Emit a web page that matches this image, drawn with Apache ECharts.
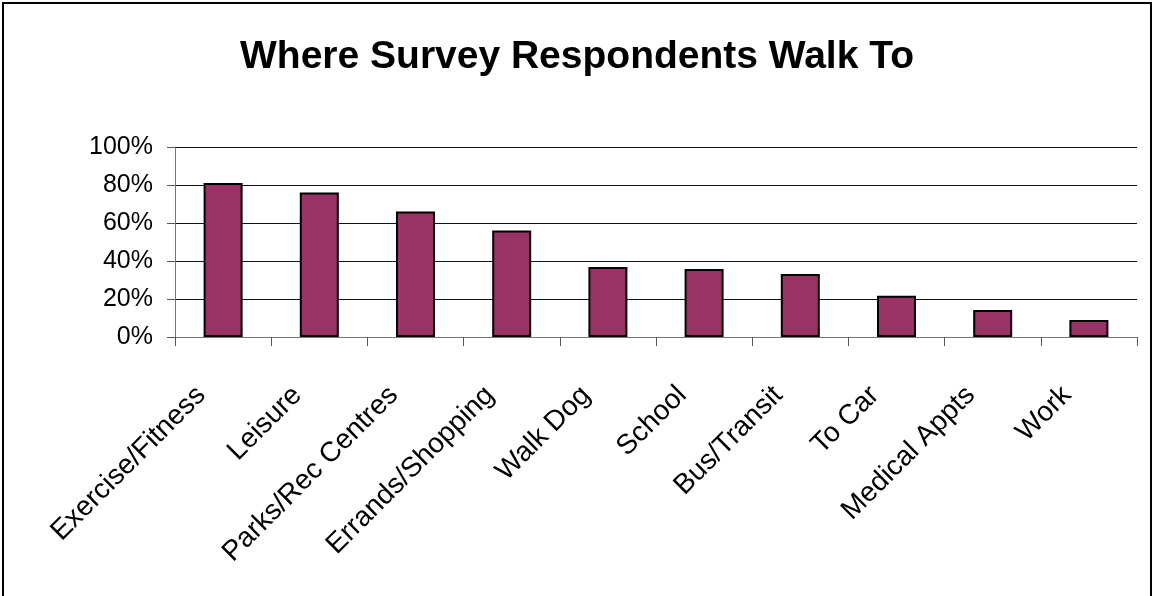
<!DOCTYPE html>
<html>
<head>
<meta charset="utf-8">
<script src="https://cdn.jsdelivr.net/npm/echarts@6/dist/echarts.min.js"></script>
<style>
  html, body { margin: 0; padding: 0; background: #fff; }
  #chart { width: 1154px; height: 596px; }
</style>
</head>
<body>
<div id="chart"></div>
<script>
// categories and share of respondents (%)
const categories = ["Exercise/Fitness", "Leisure", "Parks/Rec Centres", "Errands/Shopping", "Walk Dog", "School", "Bus/Transit", "To Car", "Medical Appts", "Work"];
const values = [81, 76, 66, 56, 36.8, 35.8, 33.2, 21.7, 14.2, 8.9];

const chart = echarts.init(document.getElementById("chart"));
const font = "Liberation Sans, Arial, sans-serif";

chart.setOption({
    animation: false,
    title: {
        text: "Where Survey Respondents Walk To",
        left: "center",
        top: 33,
        textStyle: {
            fontFamily: font,
            fontSize: 39,
            fontWeight: "bold",
            color: "#000"
        }
    },
    graphic: [
        {
            // outer chart frame
            type: "rect",
            shape: { x: 3, y: 3, width: 1148, height: 600 },
            style: { fill: "none", stroke: "#000", lineWidth: 2 },
            silent: true
        }
    ],
    grid: {
        left: 175,
        right: 17,
        top: 147,
        bottom: 259
    },
    xAxis: {
        type: "category",
        data: categories,
        axisLine: { lineStyle: { color: "#777", width: 1 } },
        axisTick: { show: true, length: 9, lineStyle: { color: "#555" } },
        axisLabel: {
            interval: 0,
            rotate: 45,
            margin: 32,
            padding: [0, 31, 0, 0],
            color: "#000",
            fontFamily: font,
            fontSize: 28
        }
    },
    yAxis: {
        type: "value",
        min: 0,
        max: 100,
        interval: 20,
        axisLine: { show: true, lineStyle: { color: "#777" } },
        axisTick: { show: true, length: 8, lineStyle: { color: "#555" } },
        splitLine: { lineStyle: { color: "#111", width: 1 } },
        axisLabel: {
            formatter: "{value}%",
            margin: 22,
            color: "#000",
            fontFamily: font,
            fontSize: 25
        }
    },
    series: [
        {
            type: "bar",
            data: values,
            barWidth: 39,
            itemStyle: {
                color: "#993366",
                borderColor: "#000",
                borderWidth: 2
            }
        }
    ]
});
</script>
</body>
</html>
